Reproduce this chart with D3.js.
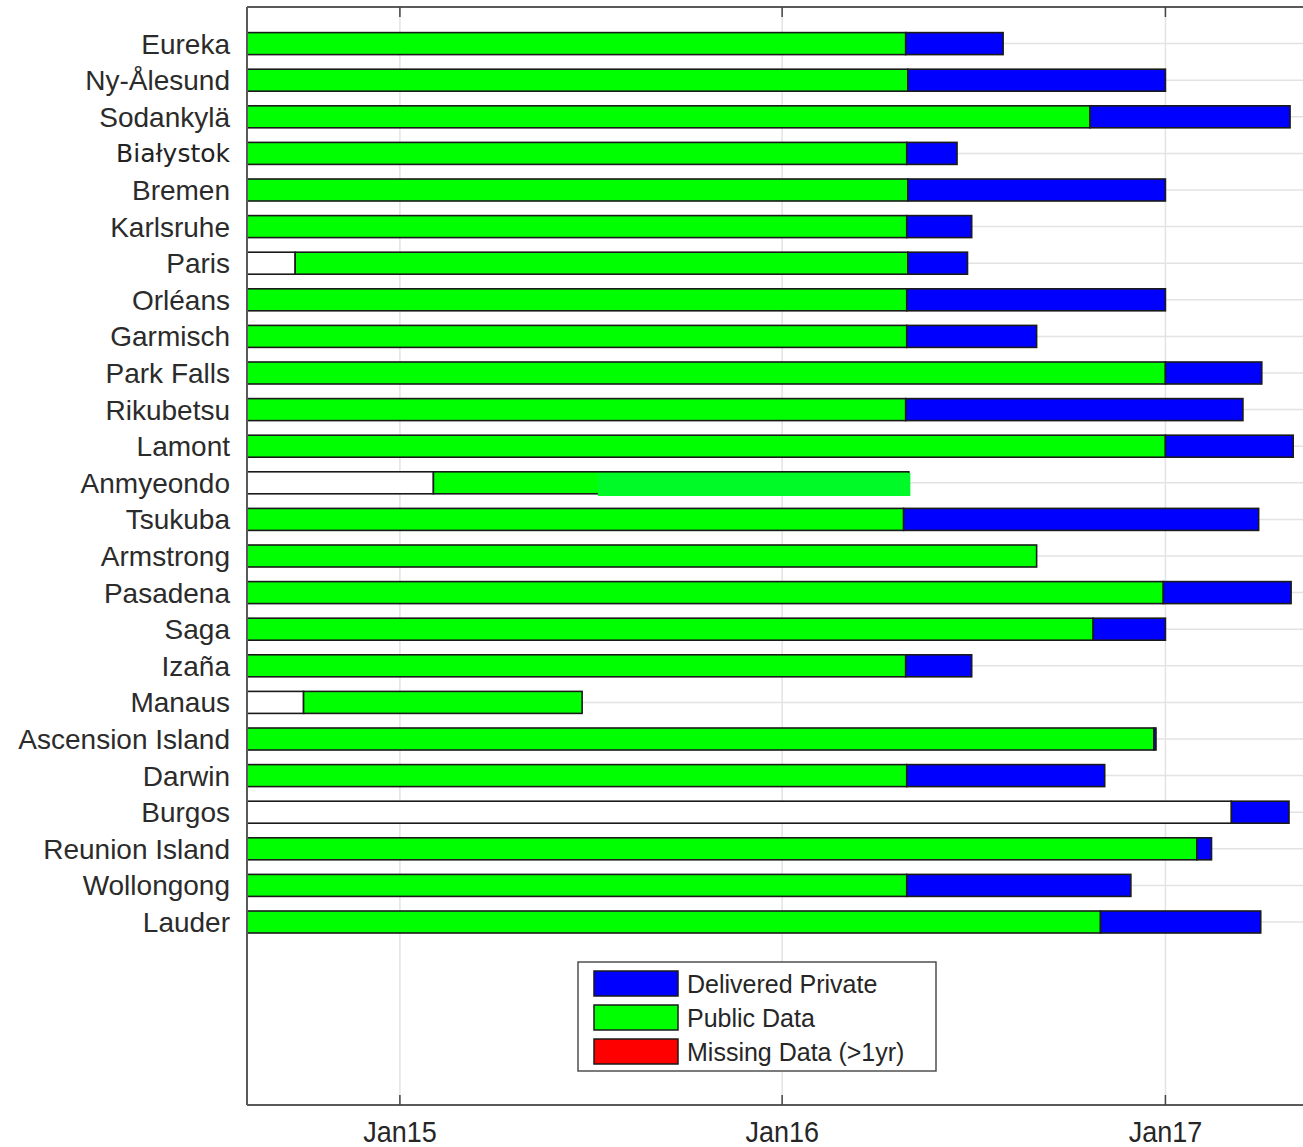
<!DOCTYPE html>
<html>
<head>
<meta charset="utf-8">
<script src="https://cdn.jsdelivr.net/npm/d3@7"></script>
<style>
  html, body { margin: 0; padding: 0; background: #fff; }
  svg { display: block; }
</style>
</head>
<body>
<svg id="chart" width="1303" height="1147"></svg>
<script>
// Station data-delivery timeline: public vs. delivered-private coverage.
const stations = ["Eureka", "Ny-Ålesund", "Sodankylä", "Białystok", "Bremen", "Karlsruhe", "Paris",
  "Orléans", "Garmisch", "Park Falls", "Rikubetsu", "Lamont", "Anmyeondo", "Tsukuba", "Armstrong",
  "Pasadena", "Saga", "Izaña", "Manaus", "Ascension Island", "Darwin", "Burgos", "Reunion Island",
  "Wollongong", "Lauder"];

const recordStart = "2014-08-08";
const recordEnd = "2017-05-20";

// first day of public data (later than recordStart means an earlier gap with no data)
const publicFrom = [recordStart, recordStart, recordStart, recordStart, recordStart, recordStart, "2014-09-23",
  recordStart, recordStart, recordStart, recordStart, recordStart, "2015-02-02", recordStart, recordStart,
  recordStart, recordStart, recordStart, "2014-10-01", recordStart, recordStart, "2017-03-05", recordStart,
  recordStart, recordStart];

const publicTo = ["2016-04-28", "2016-04-30", "2016-10-21", "2016-04-29", "2016-04-30", "2016-04-29", "2016-04-30",
  "2016-04-29", "2016-04-29", "2017-01-01", "2016-04-28", "2017-01-01", "2016-05-01", "2016-04-26", "2016-08-31",
  "2016-12-30", "2016-10-24", "2016-04-28", "2015-06-24", "2016-12-21", "2016-04-29", "2017-03-05", "2017-01-31",
  "2016-04-29", "2016-10-31"];

const privateTo = ["2016-07-30", "2017-01-01", "2017-04-30", "2016-06-16", "2017-01-01", "2016-06-30", "2016-06-26",
  "2017-01-01", "2016-08-31", "2017-04-03", "2017-03-16", "2017-05-03", null, "2017-03-31", null,
  "2017-05-01", "2017-01-01", "2016-06-30", null, "2016-12-23", "2016-11-04", "2017-04-29", "2017-02-14",
  "2016-11-29", "2017-04-02"];

// re-coloured stretch of the Anmyeondo public record
const anmyeondoPatch = { station: "Anmyeondo", from: "2015-07-09", to: "2016-05-01" };

const tickDates = ["2015-01-01", "2016-01-01", "2017-01-01"];
const tickLabels = ["Jan15", "Jan16", "Jan17"];

const legendItems = ["Delivered Private", "Public Data", "Missing Data (>1yr)"];
const legendColors = ["#0000ff", "#00ff00", "#ff0000"];

const parse = d3.utcParse("%Y-%m-%d");

const svg = d3.select("#chart");
const plot = { left: 247, right: 1311, top: 7, bottom: 1105 };

const x = d3.scaleUtc()
  .domain([parse(recordStart), parse(recordEnd)])
  .range([plot.left, plot.right]);

// rows sit at 1..25 on a 0..30 axis, leaving room for the legend underneath
const y = d3.scaleLinear().domain([0, 30]).range([plot.top, plot.bottom]);
const rowY = i => y(i + 1);
const barH = 22;

const grid = svg.append("g");
// vertical grid
grid.selectAll("line.v").data(tickDates).join("line")
  .attr("x1", d => x(parse(d))).attr("x2", d => x(parse(d)))
  .attr("y1", plot.top).attr("y2", plot.bottom)
  .attr("stroke", "#e3e3e3").attr("stroke-width", 1.5);
// horizontal grid at each station row
grid.selectAll("line.h").data(stations).join("line")
  .attr("x1", plot.left).attr("x2", plot.right)
  .attr("y1", (d, i) => rowY(i)).attr("y2", (d, i) => rowY(i))
  .attr("stroke", "#e3e3e3").attr("stroke-width", 1.5);

// bar segments
const segments = [];
stations.forEach((s, i) => {
  const start = parse(recordStart);
  const pf = parse(publicFrom[i]);
  const pt = parse(publicTo[i]);
  if (pf > start) segments.push({ i, from: start, to: pf, fill: "#ffffff" });
  if (pt > pf) segments.push({ i, from: pf, to: pt, fill: "#00ff00" });
  if (privateTo[i]) segments.push({ i, from: pt, to: parse(privateTo[i]), fill: "#0000ff" });
});

svg.append("g").selectAll("rect").data(segments).join("rect")
  .attr("x", d => x(d.from))
  .attr("y", d => rowY(d.i) - barH / 2)
  .attr("width", d => x(d.to) - x(d.from))
  .attr("height", barH)
  .attr("fill", d => d.fill)
  .attr("stroke", "#1a1a1a")
  .attr("stroke-width", 1.6);

// Anmyeondo patch (no outline)
{
  const pi = stations.indexOf(anmyeondoPatch.station);
  svg.append("rect")
    .attr("x", x(parse(anmyeondoPatch.from)))
    .attr("y", rowY(pi) - barH / 2 + 1.2)
    .attr("width", x(parse(anmyeondoPatch.to)) - x(parse(anmyeondoPatch.from)) + 1.5)
    .attr("height", barH + 1)
    .attr("fill", "#00fa28");
}

// axes box
const frame = svg.append("g").attr("fill", "none").attr("stroke", "#5a5a5a").attr("stroke-width", 2);
frame.append("line").attr("x1", plot.left).attr("x2", 1303).attr("y1", plot.top).attr("y2", plot.top);
frame.append("line").attr("x1", plot.left).attr("x2", 1303).attr("y1", plot.bottom).attr("y2", plot.bottom);
frame.append("line").attr("x1", plot.left).attr("x2", plot.left).attr("y1", plot.top).attr("y2", plot.bottom);

// tick marks, top and bottom, pointing inward
const ticks = svg.append("g").attr("stroke", "#444").attr("stroke-width", 1.5);
tickDates.forEach(d => {
  const tx = x(parse(d));
  ticks.append("line").attr("x1", tx).attr("x2", tx).attr("y1", plot.top).attr("y2", plot.top + 10);
  ticks.append("line").attr("x1", tx).attr("x2", tx).attr("y1", plot.bottom).attr("y2", plot.bottom - 10);
});

// x tick labels (condensed)
svg.append("g").selectAll("text").data(tickDates).join("text")
  .attr("transform", d => `translate(${x(parse(d))},1142) scale(0.9,1)`)
  .attr("text-anchor", "middle")
  .attr("font-family", "'Liberation Sans', Arial, sans-serif")
  .attr("font-size", 30)
  .attr("fill", "#262626")
  .text((d, i) => tickLabels[i]);

// station labels
svg.append("g").selectAll("text").data(stations).join("text")
  .attr("x", 230)
  .attr("y", (d, i) => rowY(i))
  .attr("dy", "0.36em")
  .attr("text-anchor", "end")
  .attr("font-family", d => d === "Białystok" ? "'DejaVu Sans', sans-serif" : "'Liberation Sans', Arial, sans-serif")
  .attr("font-size", d => d === "Białystok" ? 25 : 28)
  .attr("fill", d => d === "Białystok" ? "#222" : "#2b2b2b")
  .text(d => d);

// legend
const lg = svg.append("g").attr("transform", "translate(578,962)");
lg.append("rect").attr("width", 358).attr("height", 109)
  .attr("fill", "#fff").attr("stroke", "#444").attr("stroke-width", 1.4);
const li = lg.selectAll("g").data(legendItems).join("g")
  .attr("transform", (d, i) => `translate(0,${22 + i * 34})`);
li.append("rect").attr("x", 16).attr("y", -13).attr("width", 84).attr("height", 25)
  .attr("fill", (d, i) => legendColors[i]).attr("stroke", "#1a1a1a").attr("stroke-width", 1.5);
li.append("text").attr("x", 109).attr("y", 0).attr("dy", "0.36em")
  .attr("font-family", "'Liberation Sans', Arial, sans-serif")
  .attr("font-size", 25).attr("fill", "#262626")
  .text(d => d);
</script>
</body>
</html>
